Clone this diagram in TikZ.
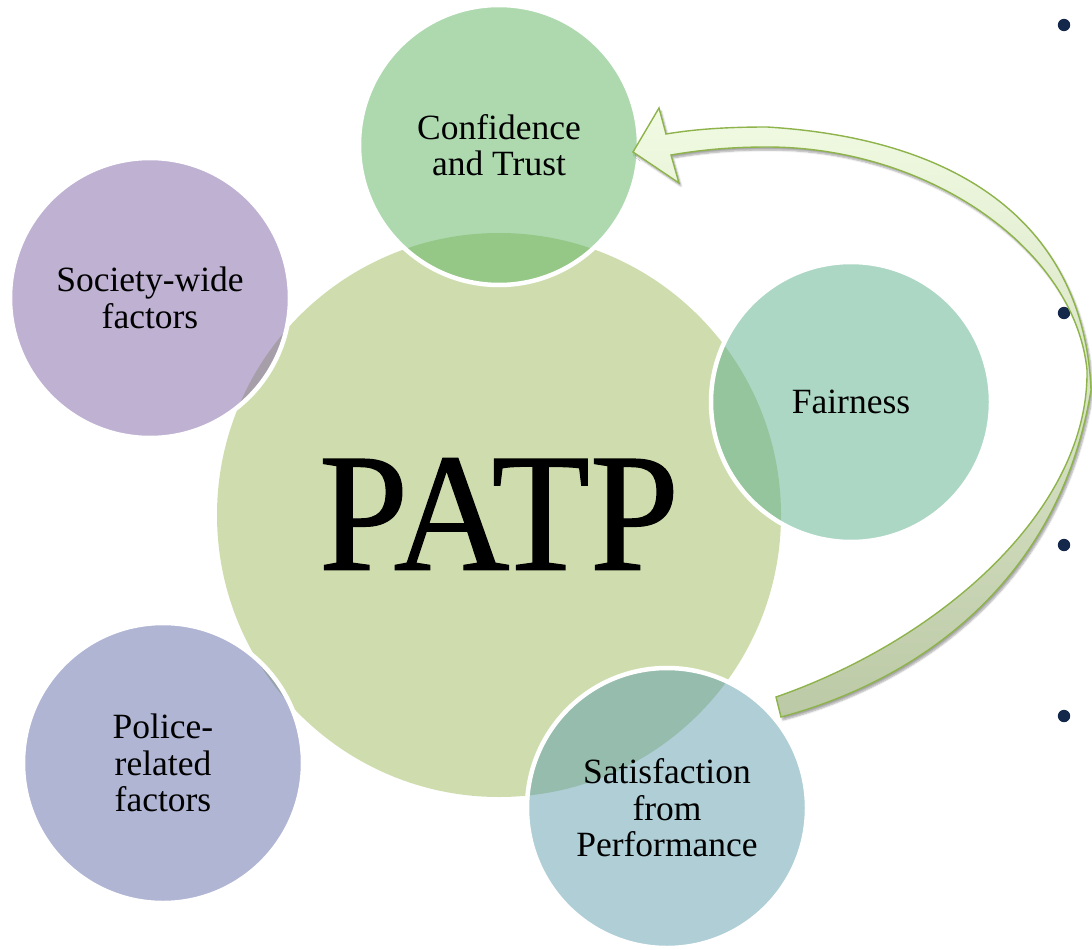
\documentclass[tikz,border=0pt]{standalone}
\usepackage{fontspec}
\setmainfont{Liberation Serif}
\newfontfamily\patpfont[FakeBold=0.8]{Liberation Serif}
\usepackage{graphicx}
\usetikzlibrary{shadows.blur}

\definecolor{patpgreen}{HTML}{CFDDAE}
\definecolor{trustgreen}{HTML}{5DB35F}
\definecolor{societypurple}{HTML}{7F63A5}
\definecolor{fairteal}{HTML}{5BAF8B}
\definecolor{policeblue}{HTML}{616BA9}
\definecolor{satisblue}{HTML}{5F9DAD}
\definecolor{bulletnavy}{HTML}{14284B}
\definecolor{arrowline}{HTML}{8DB34A}
\definecolor{arrowlight}{HTML}{F1FBE3}
\definecolor{arrowmid}{HTML}{D6ECB4}
\definecolor{arrowdark}{HTML}{BCC9A6}

\begin{document}
\begin{tikzpicture}[x=1pt,y=-1pt,
  bubble/.style={circle, inner sep=0pt, minimum size=280pt,
    fill opacity=0.5, draw opacity=1, text opacity=1,
    draw=white, line width=4.5pt, align=center,
    font=\fontsize{35.5}{36.5}\selectfont},
  hub/.style={circle, inner sep=0pt, minimum size=564pt, fill=patpgreen,
    font=\patpfont\fontsize{169}{180}\selectfont},
  dot/.style={fill=bulletnavy},
]
\useasboundingbox (0,0) rectangle (1092,950);

% bullet points down the right edge
\coordinate (b1) at (1064,25);
\coordinate (b2) at (1064,313);
\coordinate (b3) at (1064,545);
\coordinate (b4) at (1064,716);
\foreach \b in {b1,b2,b3,b4} \fill[dot] (\b) circle (6.2pt);

% central circle
\node[hub] (patp) at (499,515) {\raisebox{2pt}{\scalebox{0.95}[1]{PATP}}};

% surrounding circles
\node[bubble, fill=trustgreen]    (trust)   at (499,145) {Confidence\\and Trust};
\node[bubble, fill=societypurple] (society) at (150,298) {Society-wide\\factors};
\node[bubble, fill=fairteal]      (fair)    at (851,402) {Fairness};
\node[bubble, fill=policeblue]    (police)  at (163,763) {Police-\\related\\factors};
\node[bubble, fill=satisblue]     (satis)   at (667,808) {Satisfaction\\from\\Performance};

% curved block arrow from Satisfaction back to Confidence and Trust
\path[draw=arrowline, line width=1.4pt, line join=miter,
      top color=arrowlight, middle color=arrowmid, bottom color=arrowdark,
      blur shadow={shadow xshift=2pt, shadow yshift=-3pt,
                   shadow blur steps=6, shadow opacity=35}]
  (781,717) .. controls (920,680) and (1060,580) .. (1091,390)
            .. controls (1085,240) and (980,140) .. (767,127)
            .. controls (720,127) and (690,130) .. (666,134)
  -- (659,108) -- (633,152) -- (679,183) -- (671,155)
            .. controls (700,150) and (730,147) .. (767,147)
            .. controls (930,147) and (1075,250) .. (1087,370)
            .. controls (1089,510) and (940,640) .. (776,697)
  -- cycle;
\end{tikzpicture}
\end{document}
